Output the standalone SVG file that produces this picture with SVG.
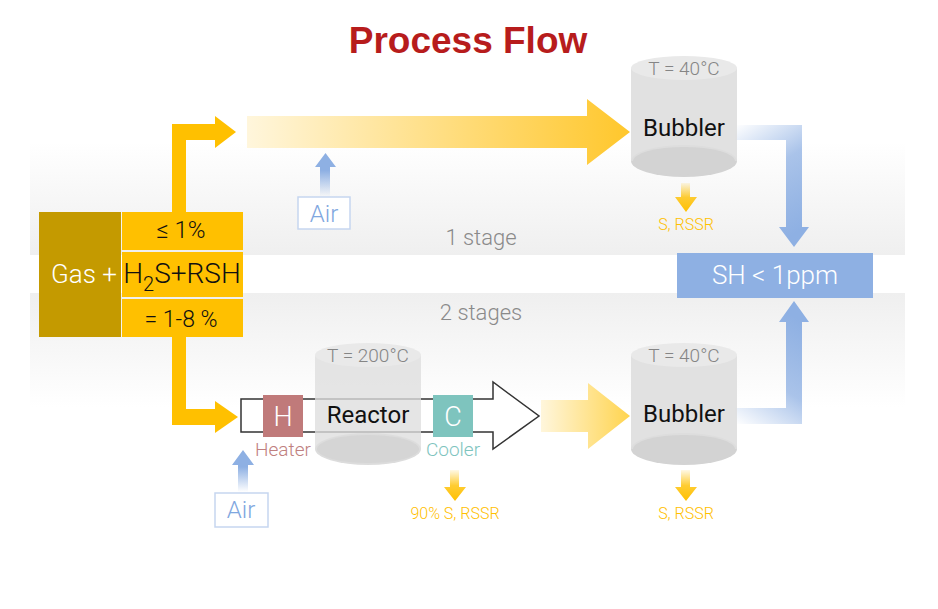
<svg xmlns="http://www.w3.org/2000/svg" width="938" height="609" viewBox="0 0 938 609">
<defs>
<linearGradient id="bandTop" x1="0" y1="0" x2="0" y2="1"><stop offset="0" stop-color="#ffffff"/><stop offset="1" stop-color="#efefef"/></linearGradient>
<linearGradient id="bandBot" x1="0" y1="0" x2="0" y2="1"><stop offset="0" stop-color="#efefef"/><stop offset="1" stop-color="#ffffff"/></linearGradient>
<linearGradient id="gold1" gradientUnits="userSpaceOnUse" x1="247" y1="0" x2="630" y2="0"><stop offset="0" stop-color="#fff6dc"/><stop offset="1" stop-color="#ffc72c"/></linearGradient>
<linearGradient id="gold2" gradientUnits="userSpaceOnUse" x1="541" y1="0" x2="630" y2="0"><stop offset="0" stop-color="#fff6dc"/><stop offset="1" stop-color="#ffd44f"/></linearGradient>
<linearGradient id="blueUp" gradientUnits="userSpaceOnUse" x1="735" y1="125" x2="800" y2="230"><stop offset="0" stop-color="#8eb0e3" stop-opacity="0"/><stop offset="0.45" stop-color="#8eb0e3" stop-opacity="0.75"/><stop offset="1" stop-color="#8eb0e3"/></linearGradient>
<linearGradient id="blueDn" gradientUnits="userSpaceOnUse" x1="735" y1="424" x2="800" y2="320"><stop offset="0" stop-color="#8eb0e3" stop-opacity="0"/><stop offset="0.45" stop-color="#8eb0e3" stop-opacity="0.75"/><stop offset="1" stop-color="#8eb0e3"/></linearGradient>
<linearGradient id="airG" x1="0" y1="1" x2="0" y2="0"><stop offset="0" stop-color="#8eb0e3" stop-opacity="0"/><stop offset="0.6" stop-color="#8eb0e3"/><stop offset="1" stop-color="#8eb0e3"/></linearGradient>
<linearGradient id="dropG" x1="0" y1="0" x2="0" y2="1"><stop offset="0" stop-color="#ffc000" stop-opacity="0.1"/><stop offset="0.5" stop-color="#ffc000" stop-opacity="0.8"/><stop offset="1" stop-color="#ffc000"/></linearGradient>
</defs>
<style>
text{font-family:Roboto,"Liberation Sans",sans-serif;font-weight:300}
.title{font-family:"Liberation Sans",Arial,sans-serif;font-weight:bold;font-size:37px;fill:#b71c1c}
.stage{font-size:22px;fill:#8a8a8a;text-anchor:middle}
.cyl-body{fill:#dedede;opacity:0.9}
.cyl-top{fill:#e9e9e9}
.cyl-bot{fill:#d3d3d3}
.temp{font-size:19px;fill:#858585;text-anchor:middle}
.lbl{font-size:24px;fill:#111;text-anchor:middle;font-weight:400}
.drop{font-size:16px;fill:#ffc000;text-anchor:middle}
.air{fill:#fff;stroke:#c6d6f0;stroke-width:1.5}
.airt{font-size:24px;fill:#7fa7e0;text-anchor:middle}
.gold{fill:#ffc000}
</style>
<rect width="938" height="609" fill="#fff"/>
<rect x="30" y="142" width="875" height="113" fill="url(#bandTop)"/>
<rect x="30" y="293" width="875" height="114" fill="url(#bandBot)"/>
<text class="title" x="468" y="53" text-anchor="middle">Process Flow</text>
<text class="stage" x="481" y="245">1 stage</text>
<text class="stage" x="481" y="320">2 stages</text>

<g id="connectors">
<path class="gold" d="M172,212 V124 H215 V116 L236,132 L215,148 V140 H186 V212 Z"/>
<path class="gold" d="M172,337 V425 H215 V433 L238,417 L215,401 V409 H186 V337 Z"/>
<path fill="url(#gold1)" d="M247,116 H587 V99 L630,132 L587,165 V148 H247 Z"/>
<path fill="url(#gold2)" d="M541,400 H588 V383 L630,416 L588,449 V432 H541 Z"/>
<path fill="url(#blueUp)" d="M735,125 H802 V227 H809 L794,247 L779,227 H786 V140 H735 Z"/>
<path fill="url(#blueDn)" d="M735,408 H786 V322 H779 L794,301 L809,322 H802 V424 H735 Z"/>
<path fill="url(#airG)" d="M320,197 V167 H315 L325.5,153 L336,167 H330 V197 Z"/>
<path fill="url(#airG)" d="M238,492 V465 H232 L243,450 L254,465 H248 V492 Z"/>
<path fill="url(#dropG)" d="M681,183 V197 H675 L686,212 L697,197 H690 V183 Z"/>
<path fill="url(#dropG)" d="M681,470 V487 H675 L686,501 L697,487 H690 V470 Z"/>
<path fill="url(#dropG)" d="M450,470 V487 H444 L455,501 L466,487 H459 V470 Z"/>
</g>

<g id="gas">
<rect x="39" y="212" width="82" height="125" fill="#c49a00"/>
<text x="117" y="283" font-size="26" fill="#fff" text-anchor="end">Gas +</text>
</g>
<g id="h2s">
<rect x="122" y="212" width="121" height="38" fill="#ffc000"/>
<rect x="122" y="252" width="121" height="45" fill="#ffc000"/>
<rect x="122" y="299" width="121" height="38" fill="#ffc000"/>
<text x="181" y="238" font-size="24" fill="#111" text-anchor="middle">≤ 1%</text>
<text x="182" y="283" font-size="28" fill="#111" text-anchor="middle" font-weight="400">H<tspan font-size="20" dy="8">2</tspan><tspan dy="-8">S+RSH</tspan></text>
<text x="181" y="327" font-size="23" fill="#111" text-anchor="middle">= 1-8 %</text>
</g>

<g id="air1">
<rect class="air" x="298" y="197" width="52" height="32"/>
<text class="airt" x="324" y="222">Air</text>
</g>

<g id="bubbler1">
<ellipse class="cyl-bot" cx="684" cy="161" rx="53" ry="16"/>
<rect class="cyl-body" x="631" y="68" width="106" height="93"/>
<ellipse class="cyl-bot" cx="684" cy="161" rx="51" ry="14"/>
<ellipse class="cyl-top" cx="684" cy="68" rx="53" ry="12"/>
<text class="temp" x="684" y="75">T = 40°C</text>
<text class="lbl" x="684" y="136">Bubbler</text>
</g>
<text class="drop" x="686" y="230">S, RSSR</text>

<g id="sh">
<rect x="677" y="253" width="196" height="45" fill="#8eb0e3"/>
<text x="775" y="284" font-size="26" fill="#fff" text-anchor="middle">SH &lt; 1ppm</text>
</g>

<g id="process">
<path d="M241,399 H493 V382 L539,416 L493,449 V432 H241 Z" fill="#fff" stroke="#333" stroke-width="1.5"/>
</g>

<g id="reactor">
<ellipse class="cyl-bot" cx="368" cy="449" rx="53" ry="16" opacity="0.8"/>
<rect x="315" y="355" width="106" height="94" fill="#dedede" opacity="0.78"/>
<ellipse class="cyl-bot" cx="368" cy="449" rx="51" ry="14" opacity="0.85"/>
<ellipse class="cyl-top" cx="368" cy="355" rx="53" ry="12"/>
<text class="temp" x="368" y="362">T = 200°C</text>
<text class="lbl" x="368" y="423">Reactor</text>
</g>

<g id="heater">
<rect x="263" y="395" width="40" height="42" fill="#c07a7a"/>
<text x="283" y="426" font-size="27" fill="#fff" text-anchor="middle">H</text>
<text x="283" y="456" font-size="19" fill="#c08080" text-anchor="middle">Heater</text>
</g>

<g id="cooler">
<rect x="433" y="395" width="40" height="42" fill="#7ec4be"/>
<text x="453" y="426" font-size="27" fill="#fff" text-anchor="middle">C</text>
<text x="453" y="456" font-size="19" fill="#7ec4be" text-anchor="middle">Cooler</text>
</g>
<text class="drop" x="455" y="519">90% S, RSSR</text>

<g id="air2">
<rect class="air" x="215" y="493" width="53" height="34"/>
<text class="airt" x="241" y="518">Air</text>
</g>

<g id="bubbler2">
<ellipse class="cyl-bot" cx="684" cy="449" rx="53" ry="16"/>
<rect class="cyl-body" x="631" y="355" width="106" height="94"/>
<ellipse class="cyl-bot" cx="684" cy="449" rx="51" ry="14"/>
<ellipse class="cyl-top" cx="684" cy="355" rx="53" ry="12"/>
<text class="temp" x="684" y="362">T = 40°C</text>
<text class="lbl" x="684" y="422">Bubbler</text>
</g>
<text class="drop" x="686" y="519">S, RSSR</text>
</svg>
